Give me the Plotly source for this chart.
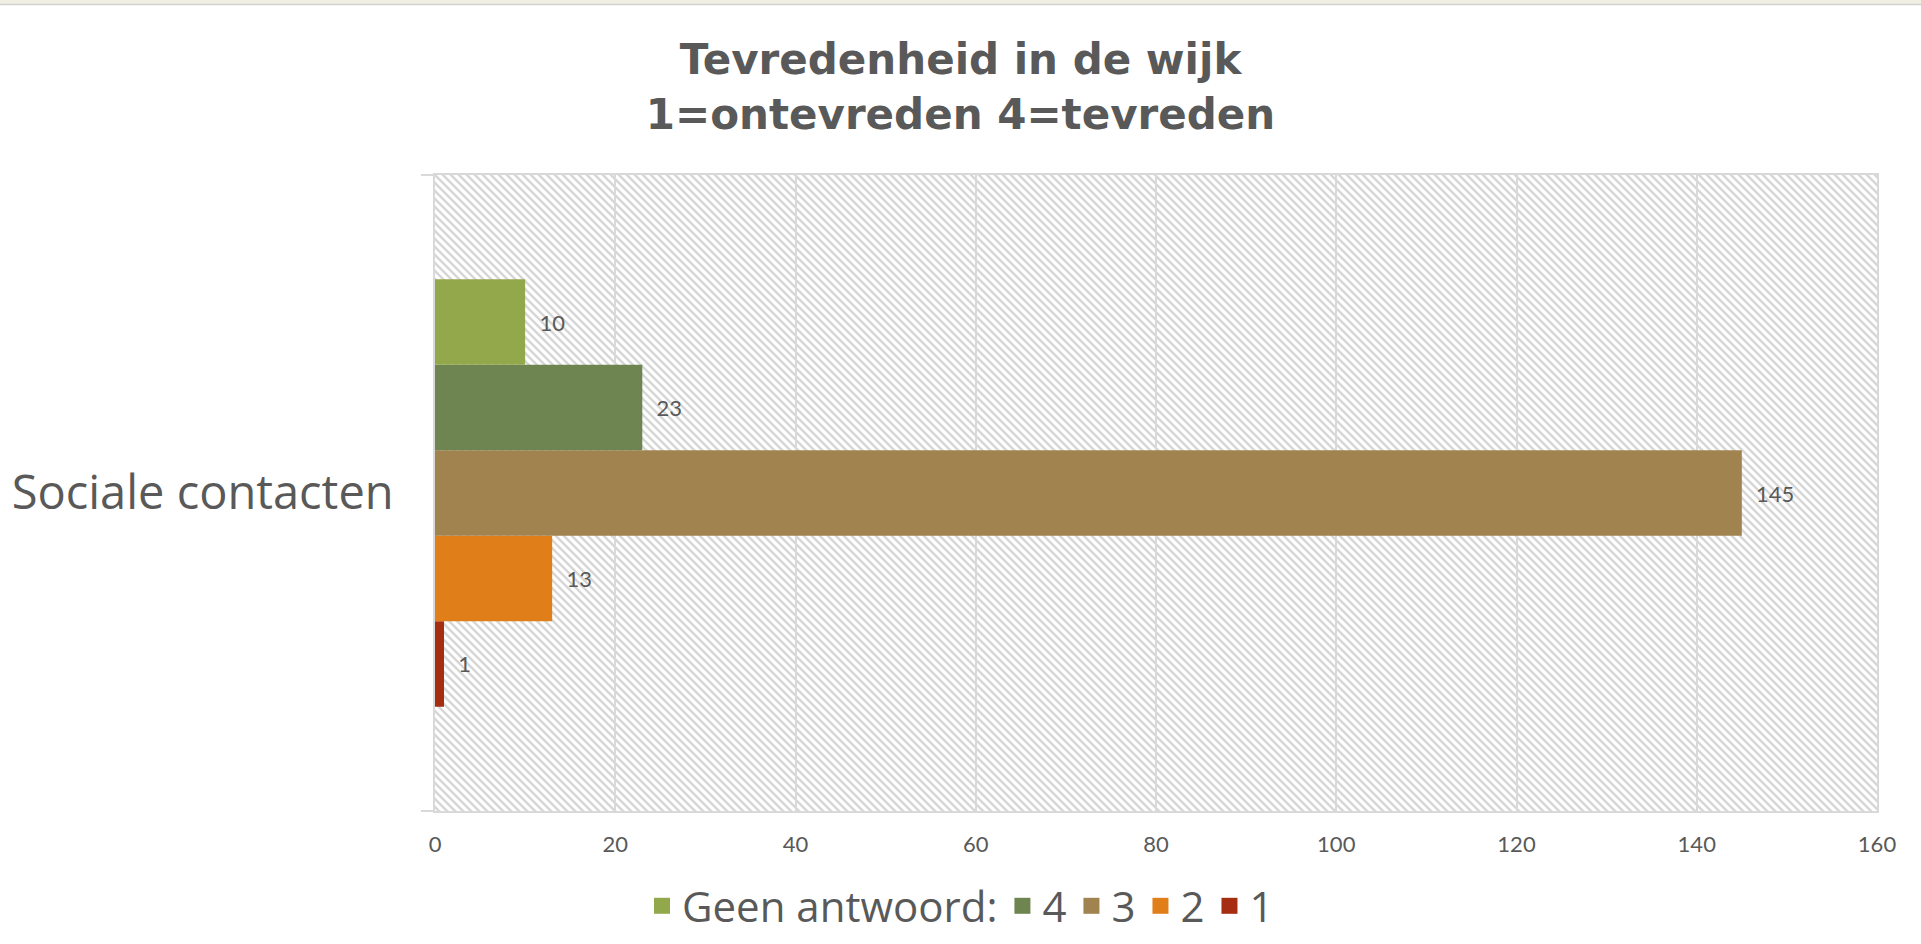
import base64
import plotly.graph_objects as go

categories = ["Sociale contacten"]
series_names = ["1", "2", "3", "4", "Geen antwoord:"]
series_values = [[1], [13], [145], [23], [10]]
series_colors = ["#A52D12", "#E07F1A", "#A0834F", "#6E8551", "#93A84B"]
legend_order = ["Geen antwoord:", "4", "3", "2", "1"]
x_ticks = [0, 20, 40, 60, 80, 100, 120, 140, 160]
title_text = "Tevredenheid in de wijk<br>1=ontevreden 4=tevreden"

W, H = 1921, 944
L, R, T, B = 435, 44, 175, 133
PW, PH = W - L - R, H - T - B

FONT = "Lato"
FONT2 = "Open Sans"
GREY = "#595959"
LINE = "#d9d9d9"

# diagonal hatch background (SVG pattern), sized 1:1 with the plot area
svg = f'''<svg xmlns="http://www.w3.org/2000/svg" width="{PW}" height="{PH}" viewBox="0 0 {PW} {PH}" preserveAspectRatio="none">
<defs><pattern id="p" width="8" height="8" patternUnits="userSpaceOnUse">
<rect width="8" height="8" fill="#ffffff"/>
<path d="M-2,-2 L10,10 M-2,6 L2,10 M6,-2 L10,2" stroke="#d6d6d6" stroke-width="2.4"/>
</pattern></defs>
<rect width="{PW}" height="{PH}" fill="url(#p)"/></svg>'''
svg_uri = "data:image/svg+xml;base64," + base64.b64encode(svg.encode()).decode()

fig = go.Figure()
for name, vals, col in zip(series_names, series_values, series_colors):
    fig.add_trace(go.Bar(
        y=categories, x=vals, name=name, orientation="h",
        marker=dict(color=col, line=dict(width=0)),
        text=vals, texttemplate="\u00a0\u00a0%{x}", textposition="outside",
        textfont=dict(family=FONT, size=22, color=GREY),
        cliponaxis=False, showlegend=False,
    ))

# legend entries (square swatches)
for name in legend_order:
    col = series_colors[series_names.index(name)]
    fig.add_trace(go.Scatter(
        x=[None], y=[None], mode="markers", name=name,
        marker=dict(symbol="square", size=20, color=col),
        showlegend=True, hoverinfo="skip",
    ))

fig.update_layout(
    width=W, height=H,
    margin=dict(l=L, r=R, t=T, b=B, autoexpand=False),
    paper_bgcolor="white", plot_bgcolor="rgba(0,0,0,0)",
    barmode="group", bargap=0.328, bargroupgap=0,
    title=dict(text=title_text, x=0.5, xref="container", xanchor="center",
               y=1 - 74 / H, yref="container", yanchor="middle",
               font=dict(family="DejaVu Sans", size=42, color=GREY, weight="bold")),
    font=dict(family=FONT, color=GREY),
    legend=dict(orientation="h", xref="container", yref="container",
                x=0.5, xanchor="center", y=1 - 906 / H, yanchor="middle",
                font=dict(family=FONT2, size=42, color=GREY),
                itemwidth=30, tracegroupgap=0, bgcolor="rgba(0,0,0,0)"),
    xaxis=dict(range=[0, 160], tickvals=x_ticks, ticktext=[str(v) for v in x_ticks],
               showgrid=True, gridcolor=LINE, gridwidth=1.5,
               zeroline=False, showline=True, linecolor=LINE, linewidth=2, mirror=True,
               ticks="", ticklabelstandoff=13,
               tickfont=dict(family=FONT, size=22, color=GREY), fixedrange=True),
    yaxis=dict(type="category", showgrid=False, zeroline=False,
               showline=True, linecolor=LINE, linewidth=2, mirror=True,
               ticks="", ticklabelstandoff=30,
               tickfont=dict(family=FONT2, size=47, color=GREY), fixedrange=True),
    images=[dict(source=svg_uri, xref="paper", yref="paper", x=0, y=1,
                 sizex=1, sizey=1, xanchor="left", yanchor="top",
                 sizing="stretch", layer="below")],
    shapes=[
        dict(type="line", xref="paper", yref="paper", x0=-14 / PW, x1=0, y0=0, y1=0,
             line=dict(color=LINE, width=2)),
        dict(type="line", xref="paper", yref="paper", x0=-14 / PW, x1=0, y0=1, y1=1,
             line=dict(color=LINE, width=2)),
        dict(type="rect", xref="paper", yref="paper", x0=-L / PW, x1=1 + R / PW,
             y0=1 + (T - 4) / PH, y1=1 + T / PH, fillcolor="#efefe2",
             line=dict(width=0), layer="above"),
        dict(type="line", xref="paper", yref="paper", x0=-L / PW, x1=1 + R / PW,
             y0=1 + (T - 4.5) / PH, y1=1 + (T - 4.5) / PH,
             line=dict(color="#d2d2d2", width=1.5), layer="above"),
    ],
)

fig.write_html("out.html", config={"displayModeBar": False},
               post_script="document.body.style.margin='0';document.body.style.overflow='hidden';")
